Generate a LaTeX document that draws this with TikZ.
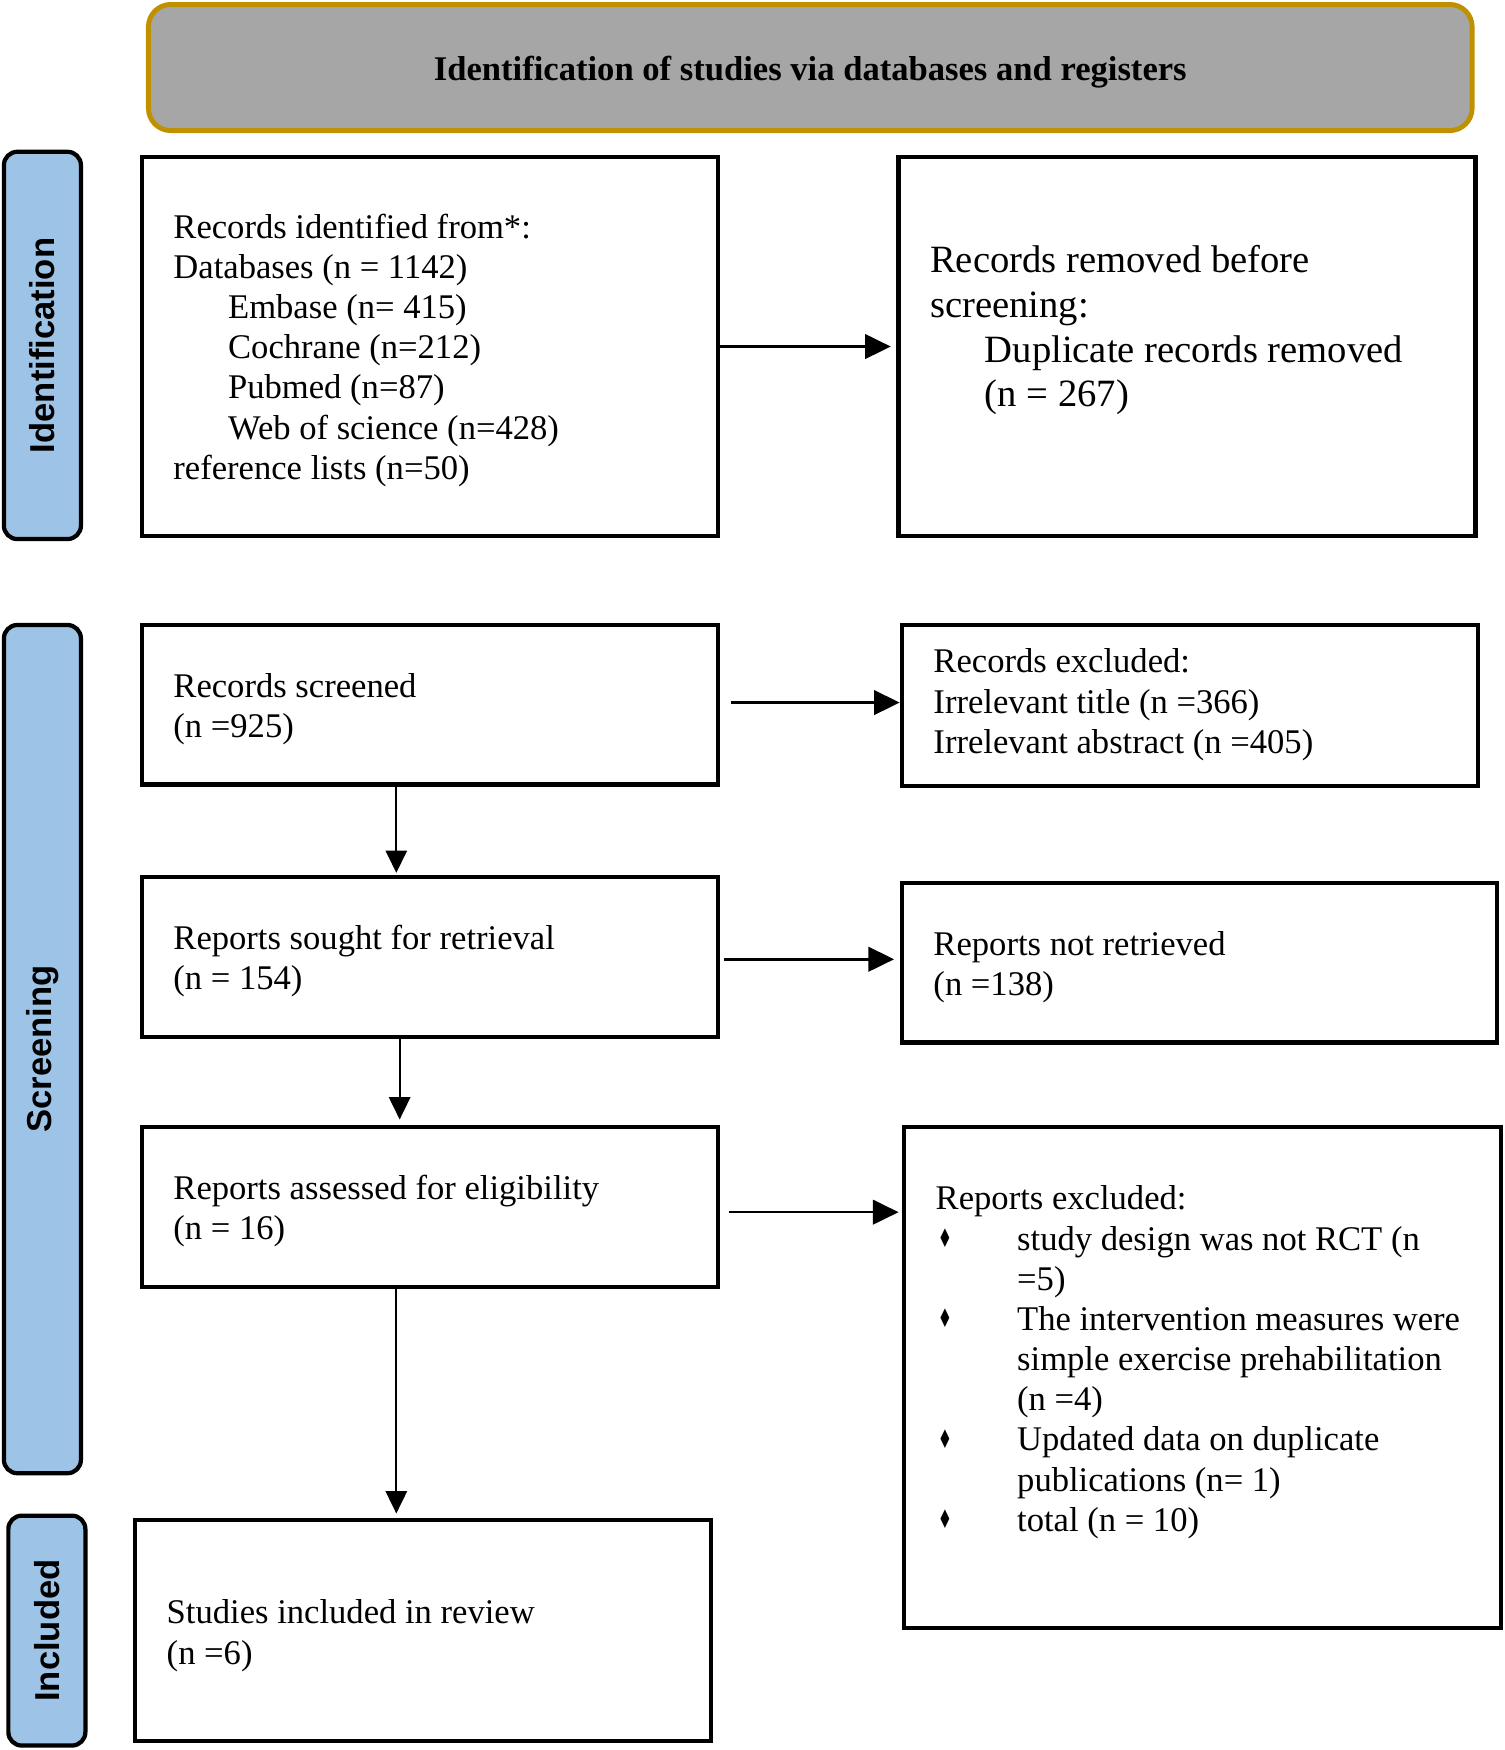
\documentclass[tikz,border=0pt]{standalone}
\usepackage{fontspec}
\setmainfont{Liberation Serif}
\newfontfamily\sidefont{Liberation Sans}
\newfontfamily\dvfont{DejaVu Sans}
\usepackage{graphicx}
\usetikzlibrary{fit,arrows.meta}
\definecolor{headgray}{RGB}{166,166,166}
\definecolor{headgold}{RGB}{191,144,0}
\definecolor{sideblue}{RGB}{157,195,230}
\newcommand\dmbul{\makebox[36.5pt][l]{\hspace*{1pt}\raisebox{1.2pt}{\fontsize{11.5}{11.5}\dvfont\scalebox{0.62}[1]{♦}}}}
\newcommand\indA{\hspace*{24.5pt}}
\tikzset{
  boxnode/.style={draw=black, line width=1.9pt, fill=white, inner sep=0pt},
  sidebar/.style={draw=black, line width=1.9pt, fill=sideblue, rounded corners=6pt, inner sep=0pt},
  sidelbl/.style={font=\sidefont\bfseries\fontsize{15.5}{18}\selectfont, rotate=90, inner sep=0pt},
  txt/.style={inner sep=0pt, anchor=base west, font=\fontsize{15.5}{18}\selectfont},
  txtB/.style={inner sep=0pt, anchor=base west, font=\fontsize{17.3}{20}\selectfont},
  harrow/.style={line width=1.1pt, -{Triangle[length=11.5pt,width=11pt]}},
  varrow/.style={line width=1pt, -{Triangle[length=10pt,width=9.5pt]}}
}
\begin{document}
\begin{tikzpicture}[x=0.5pt,y=-0.5pt]
\useasboundingbox (0,0) rectangle (1348,1568);
% header
\node[draw=headgold, line width=2.2pt, fill=headgray, rounded corners=10pt, inner sep=0pt, fit={(133,4) (1319,117)}] (Hd) {};
\node[font=\bfseries\fontsize{15.5}{18}\selectfont, inner sep=0pt] (HdT) at ([yshift=-2pt]Hd.center) {Identification of studies via databases and registers};
% side bars
\node[sidebar, fit={(3.5,136) (72.5,483)}] (BarId) {};
\node[sidelbl] (BarIdT) at (BarId.center) {Identification};
\node[sidebar, fit={(3.5,560) (72.5,1320)}] (BarSc) {};
\node[sidelbl] (BarScT) at (BarSc.center) {Screening};
\node[sidebar, fit={(7.5,1358) (76.5,1564)}] (BarIn) {};
\node[sidelbl] (BarInT) at (BarIn.center) {Included};
% boxes
\node[boxnode, fit={(127,141) (643,480)}] (A) {};
\node[boxnode, fit={(805,141) (1322,480)}] (B) {};
\node[boxnode, fit={(127,560) (643,703)}] (C) {};
\node[boxnode, fit={(808,560) (1324,704)}] (D) {};
\node[boxnode, fit={(127,786) (643,929)}] (E) {};
\node[boxnode, fit={(808,791) (1341,934)}] (F) {};
\node[boxnode, fit={(127,1010) (643,1153)}] (G) {};
\node[boxnode, fit={(810,1010) (1345,1459)}] (H) {};
\node[boxnode, fit={(121,1362) (637,1560)}] (I) {};
% texts
\node[txt] (At) at (155,213.5) {\begin{tabular}[t]{@{}l@{}}
Records identified from*:\\
Databases (n = 1142)\\
\indA Embase (n= 415)\\
\indA Cochrane (n=212)\\
\indA Pubmed (n=87)\\
\indA Web of science (n=428)\\
reference lists (n=50)
\end{tabular}};
\node[txtB] (Bt) at (833,244.5) {\begin{tabular}[t]{@{}l@{}}
Records removed before\\
screening:\\
\indA Duplicate records removed\\
\indA (n = 267)
\end{tabular}};
\node[txt] (Ct) at (155,625) {\begin{tabular}[t]{@{}l@{}}
Records screened\\
(n =925)
\end{tabular}};
\node[txt] (Dt) at (836,603) {\begin{tabular}[t]{@{}l@{}}
Records excluded:\\
Irrelevant title (n =366)\\
Irrelevant abstract (n =405)
\end{tabular}};
\node[txt] (Et) at (155,851) {\begin{tabular}[t]{@{}l@{}}
Reports sought for retrieval\\
(n = 154)
\end{tabular}};
\node[txt] (Ft) at (836,856) {\begin{tabular}[t]{@{}l@{}}
Reports not retrieved\\
(n =138)
\end{tabular}};
\node[txt] (Gt) at (155,1075) {\begin{tabular}[t]{@{}l@{}}
Reports assessed for eligibility\\
(n = 16)
\end{tabular}};
\node[txt] (Ht) at (838,1084) {\begin{tabular}[t]{@{}l@{}l@{}}
\multicolumn{2}{@{}l@{}}{Reports excluded:}\\
\dmbul & study design was not RCT (n\\
 & =5)\\
\dmbul & The intervention measures were\\
 & simple exercise prehabilitation\\
 & (n =4)\\
\dmbul & Updated data on duplicate\\
 & publications (n= 1)\\
\dmbul & total (n = 10)
\end{tabular}};
\node[txt] (It) at (149,1455) {\begin{tabular}[t]{@{}l@{}}
Studies included in review\\
(n =6)
\end{tabular}};
% horizontal arrows
\coordinate (ab) at ([yshift=0pt]A.east);
\draw[harrow, shorten >=2.5pt] (ab) -- (ab -| B.west);
\coordinate (cd) at ([yshift=1pt,xshift=5pt]C.east);
\draw[harrow] (cd) -- (cd -| D.west);
\coordinate (ef) at ([yshift=-1pt,xshift=2pt]E.east);
\draw[harrow, shorten >=2.5pt] (ef) -- (ef -| F.west);
\coordinate (gh) at ([yshift=-2.3pt,xshift=4pt]G.east);
\draw[harrow, shorten >=1.5pt] (gh) -- (gh -| H.west);
% vertical arrows
\draw[varrow, shorten >=1pt] ([xshift=115pt]C.south west) -- ([xshift=115pt]C.south west |- E.north);
\draw[varrow, shorten >=2.5pt] ([xshift=116.5pt]E.south west) -- ([xshift=116.5pt]E.south west |- G.north);
\draw[varrow, shorten >=2pt] ([xshift=115pt]G.south west) -- ([xshift=115pt]G.south west |- I.north);
\end{tikzpicture}
\end{document}
